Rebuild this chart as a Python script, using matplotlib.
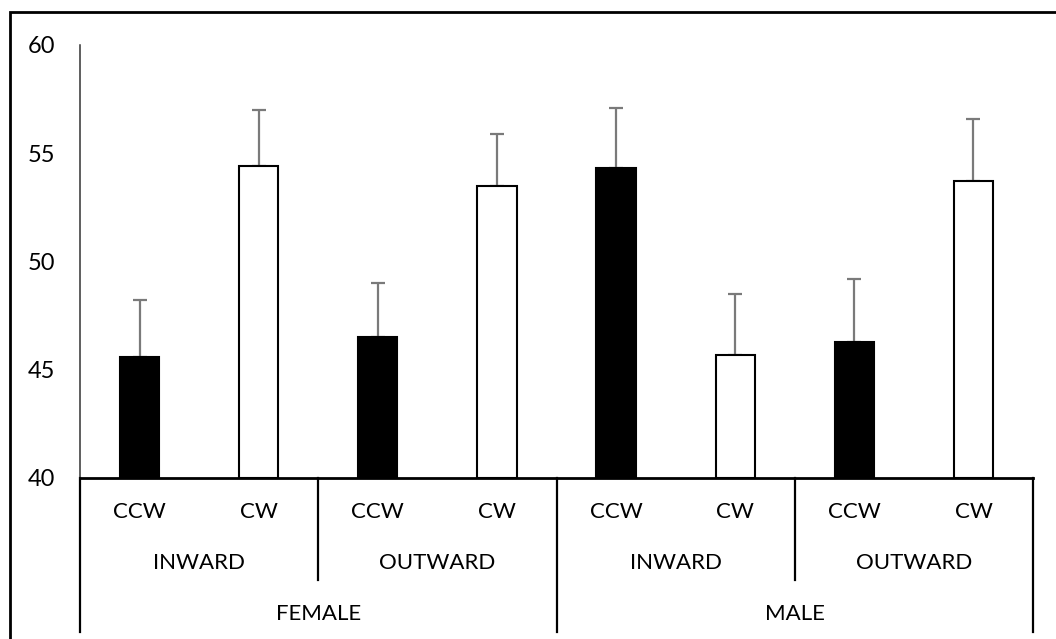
import matplotlib.pyplot as plt
from matplotlib.patches import Rectangle

plt.rcParams['font.family'] = ['Lato', 'DejaVu Sans']

# bar means and upper error (SD) for each condition
direction = ['CCW', 'CW', 'CCW', 'CW', 'CCW', 'CW', 'CCW', 'CW']
movement = ['INWARD', 'OUTWARD', 'INWARD', 'OUTWARD']
gender = ['FEMALE', 'MALE']
means = [45.6, 54.4, 46.5, 53.5, 54.3, 45.7, 46.3, 53.7]
errors = [2.6, 2.6, 2.5, 2.4, 2.8, 2.8, 2.9, 2.9]
fills = ['black', 'white', 'black', 'white', 'black', 'white', 'black', 'white']

W, H = 1056, 639
fig = plt.figure(figsize=(W / 100, H / 100), dpi=100)
ax = fig.add_axes([80 / W, 1 - 478 / H, (1033 - 80) / W, 433 / H])

x = list(range(len(means)))
ax.bar(x, [m - 40 for m in means], bottom=40, width=0.33, color=fills,
       edgecolor='black', linewidth=1.5, zorder=2)
ax.errorbar(x, means, yerr=[[0] * len(errors), errors], fmt='none',
            ecolor='#7a7a7a', elinewidth=1.6, capsize=4.7, capthick=1.6, zorder=1)

ax.set_xlim(-0.5, 7.5)
ax.set_ylim(40, 60)
ax.set_yticks([40, 45, 50, 55, 60])
ax.tick_params(axis='y', length=0, pad=18, labelsize=17)
ax.set_xticks([])
for s in ['top', 'right']:
    ax.spines[s].set_visible(False)
ax.spines['left'].set_color('#333333')
ax.spines['left'].set_linewidth(1.1)
ax.spines['bottom'].set_linewidth(2)

# multi-level category labels under the axis
tr = ax.get_xaxis_transform()
for i, lab in enumerate(direction):
    ax.text(i, -0.079, lab, transform=tr, ha='center', va='center', fontsize=16)
for j, lab in enumerate(movement):
    ax.text(2 * j + 0.5, -0.196, lab, transform=tr, ha='center', va='center', fontsize=16)
for k, lab in enumerate(gender):
    ax.text(4 * k + 1.5, -0.314, lab, transform=tr, ha='center', va='center', fontsize=16)

# separators between groups
for b in [1.5, 5.5]:
    ax.plot([b, b], [0, -0.235], transform=tr, color='black', lw=1.6, clip_on=False)
for b in [-0.5, 3.5, 7.5]:
    ax.plot([b, b], [0, -0.355], transform=tr, color='black', lw=1.6, clip_on=False)

# chart border
fig.add_artist(Rectangle((10 / W, -0.1), 1.2, 1.1 - 12 / H, transform=fig.transFigure,
                         fill=False, edgecolor='black', linewidth=2))

fig.savefig('out.png', dpi=100)
